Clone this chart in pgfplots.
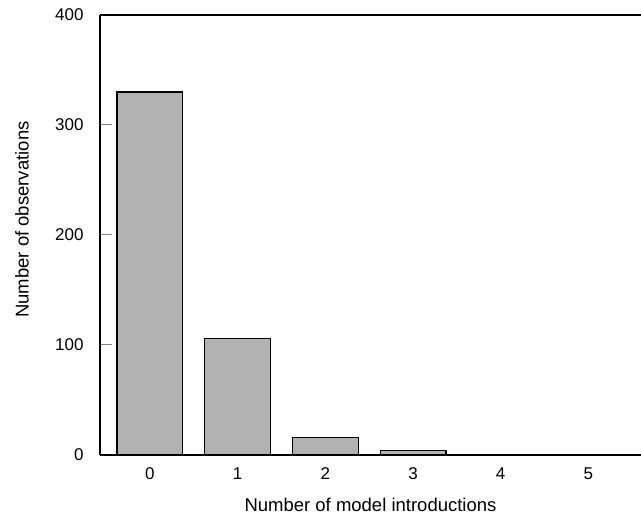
\documentclass[border=0pt]{standalone}
\usepackage{pgfplots}
\pgfplotsset{compat=1.18}
\usepackage{fontspec}
\setmainfont{Liberation Sans}
\begin{document}
\begin{tikzpicture}
\useasboundingbox (-100pt,-67pt) rectangle (541pt,455pt);
\begin{axis}[
  scale only axis,
  width=541pt, height=440pt,
  at={(0pt,0pt)}, anchor=south west,
  xmin=-0.57, xmax=5.6,
  ymin=0, ymax=400,
  axis x line*=bottom,
  axis y line*=left,
  axis line style={line width=1.3pt},
  xtick={0,1,2,3,4,5},
  ytick={0,100,200,300,400},
  xtick style={draw=none},
  ytick style={line width=1pt},
  tick align=inside,
  major tick length=12pt,
  /pgf/number format/assume math mode=true,
  tick label style={font=\fontsize{17}{20}\selectfont},
  yticklabel style={xshift=-13pt},
  xticklabel style={yshift=-9pt},
  xlabel={Number of model introductions},
  ylabel={Number of observations},
  every axis x label/.style={at={(axis description cs:0.5,-0.114)}, anchor=center, font=\fontsize{18.5}{22}\selectfont},
  every axis y label/.style={at={(axis description cs:-0.144,0.535)}, rotate=90, anchor=center, font=\fontsize{18.5}{22}\selectfont},
  clip=false,
]
\addplot[ybar, bar width=0.75, fill=gray!60, draw=black, line width=1.2pt]
  coordinates {(0,330) (1,106) (2,16) (3,4) (4,0) (5,0)};
\draw[line width=1.3pt] (rel axis cs:0,1) -- (rel axis cs:1,1);
\end{axis}
\end{tikzpicture}
\end{document}
